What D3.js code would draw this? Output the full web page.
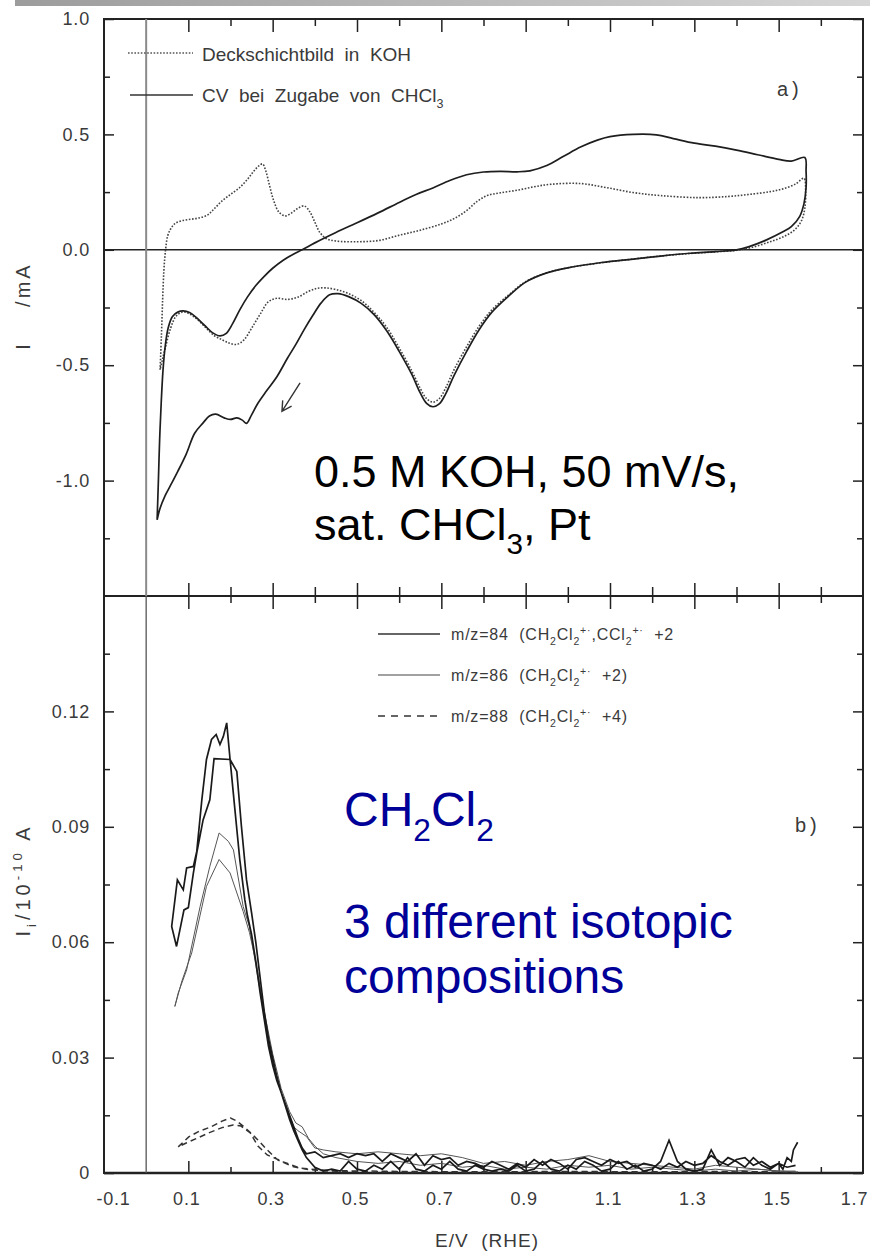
<!DOCTYPE html>
<html>
<head>
<meta charset="utf-8">
<script src="https://cdn.jsdelivr.net/npm/d3@7"></script>
<style>
  body { margin: 0; background: #fff; }
  svg { display: block; }
  text { font-family: "Liberation Sans", Arial, sans-serif; }
</style>
</head>
<body>
<svg id="chart" width="870" height="1260"></svg>
<script>
// ---------- tick values ----------
const xLabelTicks = [-0.1, 0.1, 0.3, 0.5, 0.7, 0.9, 1.1, 1.3, 1.5, 1.7];
const xInnerMajor = [0.1, 0.3, 0.5, 0.7, 0.9, 1.1, 1.3, 1.5];
const xInnerMinor = [0.2, 0.4, 0.6, 0.8, 1.0, 1.2, 1.4, 1.6];
const cvTicks = [-1.0, -0.5, 0.0, 0.5, 1.0];
const cvMinorTicks = [-1.25, -0.75, -0.25, 0.25, 0.75];
const msTicks = [0, 0.03, 0.06, 0.09, 0.12];
const msTickLabels = ["0", "0.03", "0.06", "0.09", "0.12"];
const msMinorTicks = [0.015, 0.045, 0.075, 0.105, 0.135];

// ---------- a) cyclic voltammograms, [E / V, I / mA] in sweep order ----------
// blank Pt in KOH (cover-layer CV)
const cvBlank = [
  [0.033,-0.52],[0.036,-0.38],[0.039,-0.22],[0.042,-0.09],[0.046,0.0],[0.051,0.06],[0.058,0.09],
  [0.068,0.113],[0.085,0.126],[0.105,0.132],[0.125,0.138],[0.145,0.15],[0.16,0.175],[0.18,0.212],
  [0.20,0.24],[0.222,0.27],[0.24,0.305],[0.255,0.34],[0.268,0.365],[0.276,0.372],[0.284,0.34],
  [0.293,0.275],[0.303,0.21],[0.315,0.163],[0.33,0.147],[0.345,0.16],[0.36,0.18],[0.375,0.19],
  [0.388,0.165],[0.40,0.12],[0.412,0.075],[0.428,0.048],[0.45,0.038],[0.50,0.035],[0.55,0.04],
  [0.60,0.063],[0.65,0.085],[0.70,0.112],[0.73,0.135],[0.76,0.17],[0.785,0.21],[0.81,0.236],
  [0.84,0.247],[0.88,0.258],[0.92,0.273],[0.96,0.284],[1.03,0.287],[1.09,0.27],[1.155,0.248],
  [1.22,0.235],[1.31,0.226],[1.38,0.231],[1.43,0.24],[1.48,0.252],[1.51,0.264],[1.54,0.285],
  [1.56,0.31],
  [1.564,0.25],[1.562,0.18],[1.555,0.13],[1.54,0.09],[1.515,0.06],[1.48,0.035],[1.44,0.012],
  [1.40,-0.002],[1.35,-0.009],[1.29,-0.016],[1.22,-0.027],[1.155,-0.04],[1.08,-0.056],[1.0,-0.078],
  [0.95,-0.1],[0.90,-0.138],[0.86,-0.195],[0.82,-0.26],[0.79,-0.33],[0.76,-0.42],[0.73,-0.52],
  [0.71,-0.6],[0.695,-0.645],[0.68,-0.66],[0.665,-0.645],[0.65,-0.6],[0.63,-0.525],[0.60,-0.425],
  [0.57,-0.335],[0.54,-0.27],[0.51,-0.22],[0.48,-0.19],[0.45,-0.172],[0.425,-0.165],[0.405,-0.167],
  [0.385,-0.18],[0.36,-0.205],[0.335,-0.215],[0.31,-0.21],[0.29,-0.225],[0.27,-0.28],[0.25,-0.34],
  [0.232,-0.39],[0.215,-0.41],[0.198,-0.405],[0.18,-0.39],[0.16,-0.37],[0.14,-0.335],[0.12,-0.3],
  [0.10,-0.275],[0.085,-0.27],[0.07,-0.29],[0.058,-0.34],[0.046,-0.42],[0.038,-0.48],[0.033,-0.52]
];

// CV after CHCl3 addition
const cvChloroform = [
  [0.026,-1.17],[0.029,-1.0],[0.032,-0.82],[0.036,-0.65],[0.04,-0.52],[0.045,-0.42],[0.052,-0.34],
  [0.062,-0.29],[0.075,-0.27],[0.088,-0.265],[0.103,-0.272],[0.12,-0.295],[0.14,-0.33],[0.158,-0.36],
  [0.175,-0.373],[0.19,-0.362],[0.205,-0.32],[0.222,-0.26],[0.24,-0.205],[0.26,-0.155],[0.28,-0.115],
  [0.30,-0.08],[0.325,-0.045],[0.35,-0.018],[0.37,0.0],[0.40,0.03],[0.45,0.075],[0.50,0.117],
  [0.55,0.16],[0.60,0.205],[0.64,0.24],[0.68,0.268],[0.72,0.3],[0.76,0.325],[0.80,0.337],[0.84,0.34],
  [0.88,0.338],[0.91,0.342],[0.95,0.365],[0.99,0.405],[1.03,0.445],[1.07,0.475],[1.10,0.49],
  [1.155,0.50],[1.21,0.498],[1.25,0.482],[1.30,0.462],[1.35,0.449],[1.40,0.432],[1.45,0.412],
  [1.50,0.392],[1.53,0.384],[1.562,0.40],
  [1.565,0.34],[1.565,0.27],[1.56,0.2],[1.55,0.145],[1.53,0.1],[1.51,0.078],[1.47,0.042],[1.43,0.014],
  [1.40,0.0],[1.35,-0.008],[1.29,-0.015],[1.22,-0.027],[1.155,-0.04],[1.08,-0.055],[1.0,-0.078],
  [0.95,-0.1],[0.90,-0.14],[0.86,-0.2],[0.82,-0.27],[0.79,-0.345],[0.76,-0.44],[0.73,-0.545],
  [0.71,-0.625],[0.695,-0.668],[0.68,-0.68],[0.665,-0.665],[0.65,-0.62],[0.63,-0.54],[0.60,-0.44],
  [0.57,-0.35],[0.54,-0.28],[0.51,-0.232],[0.48,-0.203],[0.455,-0.19],[0.435,-0.195],[0.415,-0.23],
  [0.395,-0.285],[0.375,-0.345],[0.355,-0.41],[0.335,-0.47],[0.31,-0.55],[0.286,-0.61],[0.265,-0.665],
  [0.25,-0.715],[0.238,-0.752],[0.228,-0.738],[0.215,-0.728],[0.2,-0.735],[0.185,-0.728],[0.165,-0.712],
  [0.15,-0.72],[0.135,-0.75],[0.115,-0.795],[0.095,-0.885],[0.075,-0.96],[0.058,-1.02],[0.045,-1.065],
  [0.033,-1.12],[0.026,-1.17]
];

// sweep-direction arrow on the cathodic branch, [E, I]
const sweepArrow = [[0.365,-0.577],[0.322,-0.70]];

// ---------- b) ion currents, [E / V, I / 1e-10 A] ----------
const ms84 = [
  [1.545,0.008],[1.535,0.006],[1.53,0.003],[1.52,0.004],[1.51,0.001],[1.50,0.0025],[1.48,0.001],
  [1.46,0.002],[1.44,0.004],[1.42,0.0015],[1.40,0.003],[1.38,0.004],[1.36,0.002],[1.34,0.006],
  [1.32,0.001],[1.30,0.0005],[1.28,0.001],[1.26,0.003],[1.24,0.0085],[1.22,0.003],[1.20,0.001],
  [1.18,0.0005],[1.16,0.002],[1.14,0.001],[1.12,0.003],[1.10,0.001],[1.08,0.0005],[1.06,0.002],
  [1.04,0.003],[1.02,0.001],[1.00,0.002],[0.98,0.0005],[0.96,0.001],[0.94,0.003],[0.92,0.001],
  [0.90,0.0005],[0.88,0.002],[0.86,0.0005],[0.84,0.001],[0.82,0.0005],[0.80,0.001],[0.78,0.002],
  [0.76,0.0005],[0.74,0.001],[0.72,0.003],[0.70,0.001],[0.68,0.002],[0.66,0.0005],[0.64,0.001],
  [0.62,0.004],[0.60,0.001],[0.58,0.003],[0.56,0.001],[0.54,0.002],[0.52,0.0005],[0.50,0.001],
  [0.48,0.003],[0.46,0.0005],[0.44,0.001],[0.42,0.0005],[0.40,0.0015],[0.38,0.004],[0.37,0.006],
  [0.36,0.0085],[0.35,0.011],[0.34,0.014],[0.33,0.0175],[0.32,0.021],[0.31,0.024],[0.30,0.028],
  [0.29,0.033],[0.28,0.040],[0.27,0.047],[0.26,0.055],[0.25,0.062],[0.24,0.067],[0.234,0.071],
  [0.222,0.0815],[0.21,0.095],[0.199,0.1075],[0.191,0.117],[0.183,0.1135],[0.175,0.1114],
  [0.166,0.114],[0.155,0.1127],[0.143,0.1075],[0.132,0.097],[0.12,0.0836],[0.112,0.0797],
  [0.096,0.0793],[0.088,0.0736],[0.074,0.0762],[0.0605,0.0641],
  [0.072,0.0589],[0.0897,0.0684],[0.10,0.069],[0.112,0.078],[0.12,0.0832],[0.135,0.0918],
  [0.151,0.097],[0.161,0.1077],[0.199,0.1075],[0.215,0.1044],[0.226,0.090],[0.238,0.0762],
  [0.25,0.0676],[0.26,0.060],[0.27,0.051],[0.28,0.042],[0.29,0.035],[0.30,0.030],[0.31,0.025],
  [0.32,0.021],[0.33,0.018],[0.34,0.015],[0.35,0.012],[0.36,0.009],[0.37,0.0065],[0.38,0.005],
  [0.40,0.0055],[0.42,0.004],[0.44,0.0045],[0.46,0.005],[0.48,0.004],[0.50,0.005],[0.52,0.0045],
  [0.54,0.005],[0.56,0.003],[0.58,0.005],[0.60,0.004],[0.62,0.003],[0.64,0.005],[0.66,0.002],
  [0.68,0.0045],[0.70,0.0035],[0.72,0.004],[0.74,0.002],[0.76,0.003],[0.78,0.0025],[0.80,0.0015],
  [0.82,0.003],[0.84,0.002],[0.86,0.001],[0.88,0.0025],[0.90,0.0015],[0.92,0.0035],[0.94,0.002],
  [0.96,0.0035],[0.98,0.0025],[1.00,0.001],[1.02,0.0035],[1.04,0.004],[1.06,0.003],[1.08,0.002],
  [1.10,0.0035],[1.12,0.0025],[1.14,0.003],[1.16,0.0015],[1.18,0.0025],[1.20,0.002],[1.22,0.001],
  [1.24,0.0025],[1.26,0.0015],[1.28,0.003],[1.30,0.002],[1.32,0.0025],[1.34,0.0045],[1.36,0.003],
  [1.38,0.002],[1.40,0.0035],[1.42,0.004],[1.44,0.002],[1.46,0.003],[1.48,0.0015],[1.50,0.0025],
  [1.52,0.0015],[1.54,0.002]
];

const ms86 = [
  [1.54,0.0005],[1.50,0.0005],[1.45,0.001],[1.40,0.0015],[1.35,0.002],[1.30,0.001],[1.25,0.0015],
  [1.20,0.002],[1.15,0.0025],[1.10,0.003],[1.05,0.0045],[1.00,0.0035],[0.95,0.003],[0.90,0.002],
  [0.85,0.003],[0.80,0.0025],[0.75,0.004],[0.70,0.005],[0.65,0.0045],[0.60,0.005],[0.55,0.0055],
  [0.50,0.005],[0.45,0.0055],[0.42,0.006],[0.40,0.0065],[0.38,0.0095],[0.36,0.011],[0.35,0.012],
  [0.34,0.015],[0.32,0.021],[0.30,0.029],[0.28,0.041],[0.26,0.054],[0.245,0.064],[0.23,0.0693],
  [0.207,0.084],[0.195,0.0862],[0.173,0.0884],[0.151,0.0797],[0.128,0.0693],[0.096,0.0528],
  [0.076,0.0468],[0.068,0.0433],
  [0.085,0.050],[0.108,0.0572],[0.143,0.0745],[0.173,0.0815],[0.199,0.078],[0.23,0.068],
  [0.245,0.0625],[0.26,0.055],[0.28,0.042],[0.30,0.031],[0.32,0.022],[0.34,0.016],[0.355,0.013],
  [0.37,0.012],[0.385,0.009],[0.40,0.007],[0.42,0.005],[0.45,0.004],[0.50,0.003],[0.55,0.0025],
  [0.60,0.003],[0.65,0.002],[0.70,0.0025],[0.75,0.0015],[0.80,0.002],[0.85,0.001],[0.90,0.0015],
  [0.95,0.001],[1.00,0.002],[1.05,0.0015],[1.10,0.002],[1.15,0.001],[1.20,0.0015],[1.25,0.001],
  [1.30,0.0005],[1.35,0.001],[1.40,0.0005],[1.45,0.001],[1.50,0.0005],[1.54,0.0003]
];

const ms88 = [
  [0.076,0.0068],[0.101,0.0094],[0.125,0.0108],[0.154,0.012],[0.18,0.0135],[0.20,0.0143],
  [0.215,0.0135],[0.232,0.012],[0.25,0.0102],[0.265,0.0086],[0.287,0.006],[0.312,0.0034],
  [0.35,0.0016],[0.39,0.0008],[0.45,0.0004],[0.60,0.0003],[0.80,0.0002],[1.00,0.0003],
  [1.20,0.0002],[1.40,0.0003],[1.55,0.0002],
  [1.40,0.0004],[1.20,0.0003],[1.00,0.0004],[0.80,0.0003],[0.60,0.0004],[0.45,0.0006],
  [0.40,0.0009],[0.365,0.0013],[0.325,0.0029],[0.287,0.0047],[0.265,0.007],[0.247,0.0104],
  [0.225,0.0122],[0.206,0.0125],[0.18,0.0118],[0.15,0.0105],[0.12,0.009],[0.095,0.0078],
  [0.076,0.0068]
];

// ---------- layout ----------
const W = 870, H = 1260;
const L = 104, R = 863;
const T1 = 19, B1 = 596, B2 = 1173;
const ink = "#222";
const labelInk = "#3a3a3a";
const FONT = '"Liberation Sans", Arial, sans-serif';

const x = d3.scaleLinear().domain([-0.1, 1.7]).range([L, R]);
const yCV = d3.scaleLinear().domain([-1.5, 1.0]).range([B1, T1]);
const yMS = d3.scaleLinear().domain([0, 0.15]).range([B2, B1]);

const svg = d3.select("#chart");

// grey strip along the top edge
const defs = svg.append("defs");
const grad = defs.append("linearGradient").attr("id", "strip").attr("x1", "0").attr("x2", "1");
grad.append("stop").attr("offset", "0").attr("stop-color", "#9c9c9c");
grad.append("stop").attr("offset", "1").attr("stop-color", "#d6d6d6");
svg.append("rect").attr("x", 15).attr("y", 0).attr("width", W - 15).attr("height", 6).attr("fill", "url(#strip)");

// rich text helper: parts are strings or [string, "sub"|"sup"]
function richText(g, px, py, parts, size, fill, anchor) {
  const t = g.append("text").attr("x", px).attr("y", py)
    .attr("font-size", size).attr("fill", fill).attr("text-anchor", anchor || "start")
    .style("white-space", "pre");
  let shift = 0;
  parts.forEach(p => {
    const s = Array.isArray(p) ? p[0] : p;
    const kind = Array.isArray(p) ? p[1] : null;
    const target = kind === "sub" ? size * 0.32 : kind === "sup" ? -size * 0.4 : 0;
    const ts = t.append("tspan").text(s).attr("dy", target - shift);
    if (kind) ts.attr("font-size", size * 0.66);
    shift = target;
  });
  return t;
}

function styleAxis(g, size) {
  g.select(".domain").remove();
  g.selectAll(".tick line").attr("stroke", ink).attr("stroke-width", 1.5);
  g.selectAll(".tick text").attr("fill", labelInk).attr("font-size", size)
    .attr("font-family", FONT).attr("letter-spacing", 0.8);
}

const fmt1 = d => d.toFixed(1);
const blank = () => "";

function addAxis(parent, axis, tx, ty, size) {
  return parent.append("g").attr("transform", `translate(${tx},${ty})`)
    .call(axis).call(g => styleAxis(g, size || 18));
}

// ---------- panel a) axes ----------
const gA = svg.append("g");
addAxis(gA, d3.axisLeft(yCV).tickValues(cvTicks).tickSize(-10).tickPadding(14).tickFormat(fmt1), L, 0);
addAxis(gA, d3.axisLeft(yCV).tickValues(cvMinorTicks).tickSize(-6).tickFormat(blank), L, 0);
addAxis(gA, d3.axisRight(yCV).tickValues(cvTicks).tickSize(-10).tickFormat(blank), R, 0);
addAxis(gA, d3.axisRight(yCV).tickValues(cvMinorTicks).tickSize(-6).tickFormat(blank), R, 0);
addAxis(gA, d3.axisTop(x).tickValues(xInnerMajor).tickSize(-13).tickFormat(blank), 0, T1);
addAxis(gA, d3.axisTop(x).tickValues(xInnerMinor).tickSize(-7).tickFormat(blank), 0, T1);
addAxis(gA, d3.axisBottom(x).tickValues(xInnerMajor).tickSize(-13).tickFormat(blank), 0, B1);
addAxis(gA, d3.axisBottom(x).tickValues(xInnerMinor).tickSize(-9).tickFormat(blank), 0, B1);

// ---------- panel b) axes ----------
const gB = svg.append("g");
addAxis(gB, d3.axisLeft(yMS).tickValues(msTicks).tickSize(-10).tickPadding(14)
  .tickFormat((d, i) => msTickLabels[i]), L, 0);
addAxis(gB, d3.axisLeft(yMS).tickValues(msMinorTicks).tickSize(-6).tickFormat(blank), L, 0);
addAxis(gB, d3.axisRight(yMS).tickValues(msTicks).tickSize(-10).tickFormat(blank), R, 0);
addAxis(gB, d3.axisRight(yMS).tickValues(msMinorTicks).tickSize(-6).tickFormat(blank), R, 0);
addAxis(gB, d3.axisTop(x).tickValues(xInnerMajor).tickSize(-13).tickFormat(blank), 0, B1);
addAxis(gB, d3.axisTop(x).tickValues(xInnerMinor).tickSize(-7).tickFormat(blank), 0, B1);
addAxis(gB, d3.axisBottom(x).tickValues(xInnerMajor).tickSize(-12).tickFormat(blank), 0, B2);
addAxis(gB, d3.axisBottom(x).tickValues(xInnerMinor).tickSize(-6).tickFormat(blank), 0, B2);
// potential tick labels under panel b)
addAxis(gB, d3.axisBottom(x).tickValues(xLabelTicks).tickSize(0).tickPadding(19).tickFormat(fmt1), 0, B2)
  .call(g => g.selectAll(".tick text").attr("dx", d => d < 0 ? 9 : d > 1.65 ? -9 : -2));

// ---------- frames, zero lines ----------
svg.append("rect").attr("x", L).attr("y", T1).attr("width", R - L).attr("height", B1 - T1)
  .attr("fill", "none").attr("stroke", ink).attr("stroke-width", 2);
svg.append("rect").attr("x", L).attr("y", B1).attr("width", R - L).attr("height", B2 - B1)
  .attr("fill", "none").attr("stroke", ink).attr("stroke-width", 2);
svg.append("line").attr("x1", L).attr("x2", R).attr("y1", B2).attr("y2", B2)
  .attr("stroke", ink).attr("stroke-width", 2.6);
svg.append("line").attr("x1", L).attr("x2", R).attr("y1", yCV(0)).attr("y2", yCV(0))
  .attr("stroke", ink).attr("stroke-width", 1.5);
// E = 0 marker line through both panels
svg.append("line").attr("x1", x(0)).attr("x2", x(0)).attr("y1", T1).attr("y2", B1)
  .attr("stroke", "#8a8a8a").attr("stroke-width", 2);
svg.append("line").attr("x1", x(0)).attr("x2", x(0)).attr("y1", B1).attr("y2", B2)
  .attr("stroke", "#555").attr("stroke-width", 1.3);

// ---------- panel a) curves ----------
const lineCV = d3.line().x(d => x(d[0])).y(d => yCV(d[1])).curve(d3.curveCatmullRom.alpha(0.5));
svg.append("path").datum(cvBlank).attr("d", lineCV)
  .attr("fill", "none").attr("stroke", "#444").attr("stroke-width", 1.6)
  .attr("stroke-dasharray", "1.6,1.6");
svg.append("path").datum(cvChloroform).attr("d", lineCV)
  .attr("fill", "none").attr("stroke", "#1e1e1e").attr("stroke-width", 1.7);

// sweep-direction arrow
const a0 = sweepArrow[0], a1 = sweepArrow[1];
const ax0 = x(a0[0]), ay0 = yCV(a0[1]), ax1 = x(a1[0]), ay1 = yCV(a1[1]);
const ang = Math.atan2(ay1 - ay0, ax1 - ax0);
const head = 11;
svg.append("path")
  .attr("d", `M${ax0},${ay0}L${ax1},${ay1}` +
    `M${ax1 - head * Math.cos(ang - 0.5)},${ay1 - head * Math.sin(ang - 0.5)}L${ax1},${ay1}` +
    `L${ax1 - head * Math.cos(ang + 0.5)},${ay1 - head * Math.sin(ang + 0.5)}`)
  .attr("fill", "none").attr("stroke", "#333").attr("stroke-width", 1.4);

// ---------- panel b) curves ----------
const lineMS = d3.line().x(d => x(d[0])).y(d => yMS(d[1]));
svg.append("path").datum(ms88).attr("d", lineMS)
  .attr("fill", "none").attr("stroke", "#333").attr("stroke-width", 1.5).attr("stroke-dasharray", "6,4");
svg.append("path").datum(ms86).attr("d", lineMS)
  .attr("fill", "none").attr("stroke", "#555").attr("stroke-width", 1.0);
svg.append("path").datum(ms84).attr("d", lineMS)
  .attr("fill", "none").attr("stroke", "#1a1a1a").attr("stroke-width", 1.7);

// ---------- legends ----------
const lg = svg.append("g");
lg.append("line").attr("x1", 128).attr("x2", 193).attr("y1", 53).attr("y2", 53)
  .attr("stroke", "#555").attr("stroke-width", 1.5).attr("stroke-dasharray", "1.6,1.6");
richText(lg, 202, 61, ["Deckschichtbild  in  KOH"], 19, labelInk);
lg.append("line").attr("x1", 130).attr("x2", 193).attr("y1", 95).attr("y2", 95)
  .attr("stroke", "#333").attr("stroke-width", 1.5);
richText(lg, 202, 102, ["CV  bei  Zugabe  von  CHCl", ["3", "sub"]], 19, labelInk);
lg.append("text").attr("x", 777).attr("y", 96).attr("font-size", 20).attr("fill", labelInk)
  .attr("letter-spacing", 4).text("a)");

const lgB = svg.append("g");
const legRows = [634, 675, 716];
lgB.append("line").attr("x1", 378).attr("x2", 440).attr("y1", legRows[0]).attr("y2", legRows[0])
  .attr("stroke", "#333").attr("stroke-width", 1.3);
lgB.append("line").attr("x1", 378).attr("x2", 440).attr("y1", legRows[1]).attr("y2", legRows[1])
  .attr("stroke", "#444").attr("stroke-width", 1.1);
lgB.append("line").attr("x1", 378).attr("x2", 440).attr("y1", legRows[2]).attr("y2", legRows[2])
  .attr("stroke", "#333").attr("stroke-width", 1.3).attr("stroke-dasharray", "7,6");
richText(lgB, 451, legRows[0] + 6,
  ["m/z=84  (CH", ["2", "sub"], "Cl", ["2", "sub"], ["+·", "sup"], ",CCl", ["2", "sub"], ["+·", "sup"], "  +2"],
  16, labelInk).attr("letter-spacing", 0.8);
richText(lgB, 451, legRows[1] + 6,
  ["m/z=86  (CH", ["2", "sub"], "Cl", ["2", "sub"], ["+·", "sup"], "  +2)"],
  16, labelInk).attr("letter-spacing", 0.8);
richText(lgB, 451, legRows[2] + 6,
  ["m/z=88  (CH", ["2", "sub"], "Cl", ["2", "sub"], ["+·", "sup"], "  +4)"],
  16, labelInk).attr("letter-spacing", 0.8);
lgB.append("text").attr("x", 795).attr("y", 832).attr("font-size", 20).attr("fill", labelInk)
  .attr("letter-spacing", 4).text("b)");

// ---------- axis titles ----------
richText(svg.append("g").attr("transform", "translate(30,306) rotate(-90)"),
  0, 0, ["I    /mA"], 20, labelInk, "middle").attr("letter-spacing", 3);
richText(svg.append("g").attr("transform", "translate(30,880) rotate(-90)"),
  0, 0, ["I", ["i", "sub"], "/10", ["-10", "sup"], " A"], 20, labelInk, "middle").attr("letter-spacing", 4);
svg.append("text").attr("x", 487).attr("y", 1247).attr("text-anchor", "middle")
  .attr("font-size", 19).attr("fill", labelInk).attr("letter-spacing", 1).style("white-space", "pre")
  .text("E/V  (RHE)");

// ---------- annotations ----------
const note = svg.append("g");
richText(note, 314, 487, ["0.5 M KOH, 50 mV/s,"], 45, "#000");
richText(note, 314, 540, ["sat. CHCl", ["3", "sub"], ", Pt"], 45, "#000");
richText(note, 344, 826, ["CH", ["2", "sub"], "Cl", ["2", "sub"]], 48, "#000099");
richText(note, 344, 938, ["3 different isotopic"], 48, "#000099");
richText(note, 344, 993, ["compositions"], 48, "#000099");
</script>
</body>
</html>
